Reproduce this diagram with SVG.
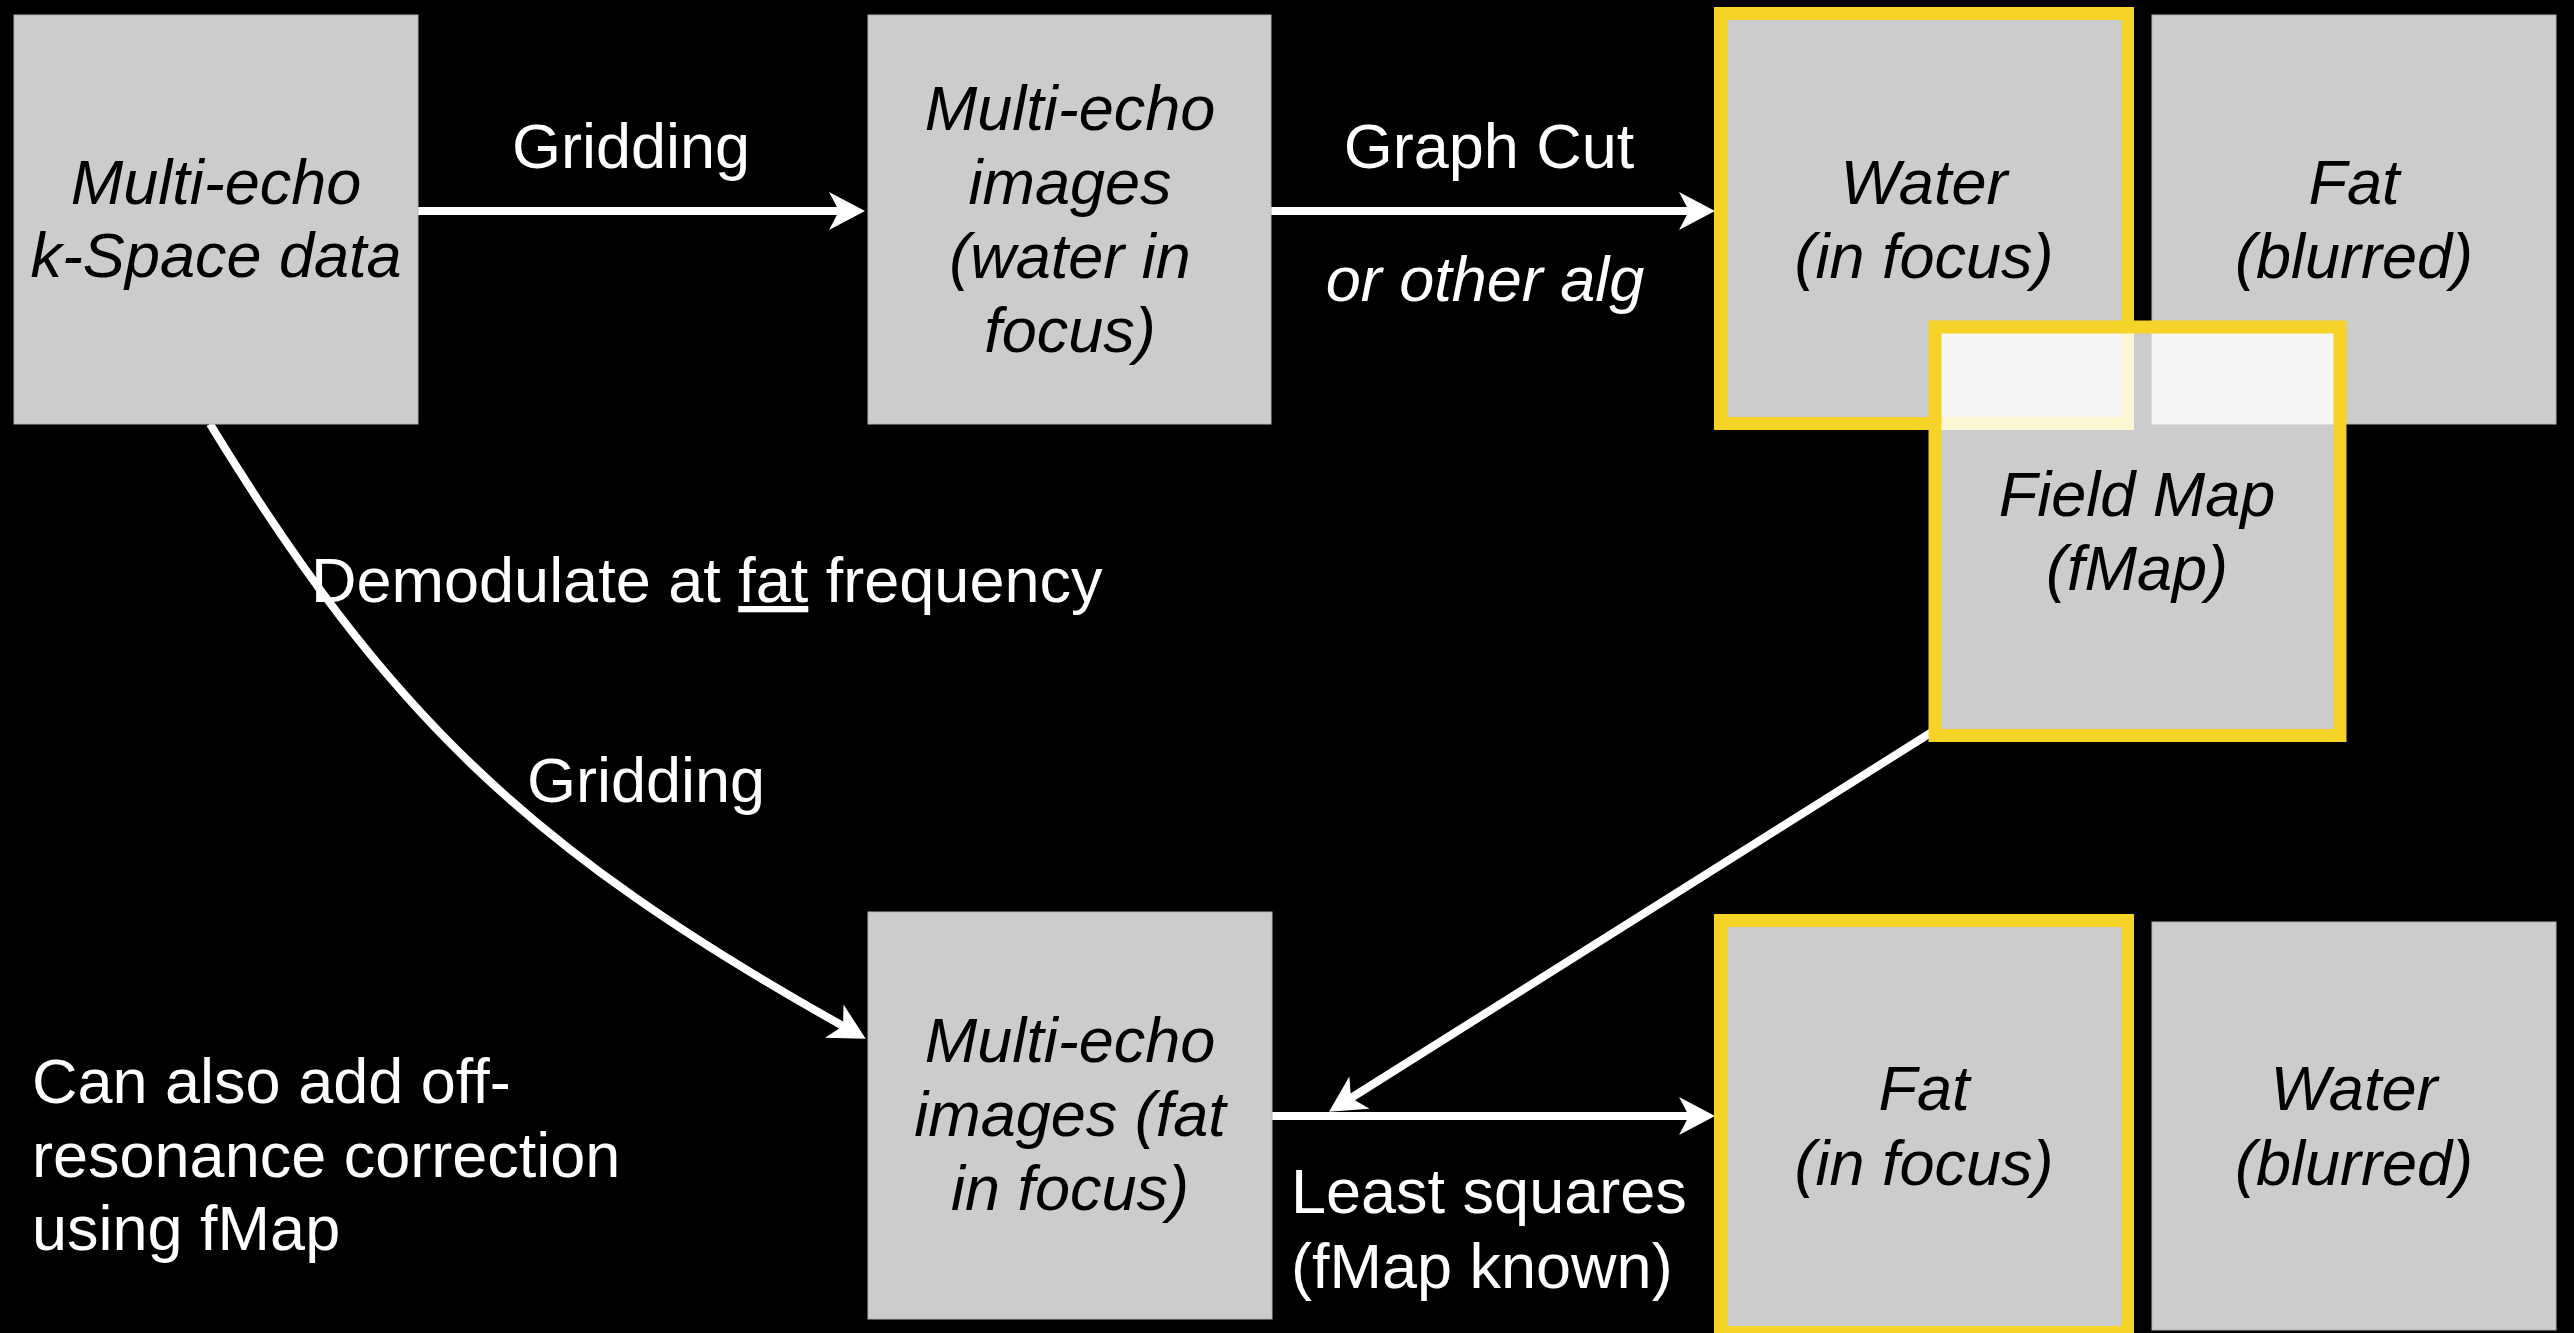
<svg xmlns="http://www.w3.org/2000/svg" width="2574" height="1333" viewBox="0 0 2574 1333">
<style>
  text { font-family: "Liberation Sans", Arial, sans-serif; font-size: 63px; }
  .lbl { fill: #ffffff; }
  .nt { fill: #000000; font-style: italic; text-anchor: middle; }
  .box { fill: #cccccc; stroke: #b4b4b4; stroke-width: 1; }
  .hl { fill: #cccccc; stroke: #f5d327; stroke-width: 13; }
  .fm { fill: #ffffff; fill-opacity: 0.8; stroke: #f5d327; stroke-width: 13; }
  .conn { fill: none; stroke: #ffffff; stroke-width: 8; marker-end: url(#arr); }
</style>
<defs>
  <marker id="arr" markerUnits="userSpaceOnUse" viewBox="-11 -20 38 40" refX="0" refY="0" markerWidth="38" markerHeight="40" orient="auto" overflow="visible">
    <path d="M26,0 L-10,-19 L0,0 L-10,19 Z" fill="#ffffff"/>
  </marker>
</defs>
<rect x="0" y="0" width="2574" height="1333" fill="#000000"/>

<g id="connectors">
  <path class="conn" d="M418,211 L839,211"/>
  <path class="conn" d="M1271,211 L1689,211"/>
  <path class="conn" d="M1272,1116 L1689,1116"/>
  <path class="conn" d="M210,424 C385,710 525,848 843,1026"/>
  <path class="conn" d="M1932,732 L1351,1098"/>
</g>

<g id="labels">
  <text class="lbl" x="631" y="168" text-anchor="middle">Gridding</text>
  <text class="lbl" x="1489" y="168" text-anchor="middle">Graph Cut</text>
  <text class="lbl" x="1485" y="301" text-anchor="middle" font-style="italic">or other alg</text>
  <text class="lbl" x="311" y="602">Demodulate at <tspan text-decoration="underline">fat</tspan> frequency</text>
  <text class="lbl" x="646" y="802" text-anchor="middle">Gridding</text>
  <text class="lbl" x="1291" y="1213">Least squares</text>
  <text class="lbl" x="1291" y="1288">(fMap known)</text>
  <text class="lbl" x="32" y="1103">Can also add off-</text>
  <text class="lbl" x="32" y="1177">resonance correction</text>
  <text class="lbl" x="32" y="1250">using fMap</text>
</g>

<g id="kspace">
  <rect class="box" x="14" y="15" width="404" height="409"/>
  <text class="nt" x="216" y="204">Multi-echo</text>
  <text class="nt" x="216" y="277">k-Space data</text>
</g>

<g id="images-water">
  <rect class="box" x="868" y="15" width="403" height="409"/>
  <text class="nt" x="1070" y="130">Multi-echo</text>
  <text class="nt" x="1070" y="204">images</text>
  <text class="nt" x="1070" y="278">(water in</text>
  <text class="nt" x="1070" y="352">focus)</text>
</g>

<g id="water-focus">
  <rect class="hl" x="1720.5" y="13.5" width="407" height="410"/>
  <text class="nt" x="1924" y="204">Water</text>
  <text class="nt" x="1924" y="278">(in focus)</text>
</g>

<g id="fat-blurred">
  <rect class="box" x="2152" y="15" width="404" height="409"/>
  <text class="nt" x="2354" y="204">Fat</text>
  <text class="nt" x="2354" y="278">(blurred)</text>
</g>

<g id="field-map">
  <rect class="fm" x="1935" y="327" width="405" height="408.5"/>
  <text class="nt" x="2137" y="516">Field Map</text>
  <text class="nt" x="2137" y="590">(fMap)</text>
</g>

<g id="images-fat">
  <rect class="box" x="868" y="912" width="404" height="407"/>
  <text class="nt" x="1070" y="1062">Multi-echo</text>
  <text class="nt" x="1070" y="1136">images (fat</text>
  <text class="nt" x="1070" y="1210">in focus)</text>
</g>

<g id="fat-focus">
  <rect class="hl" x="1720.5" y="920.5" width="407" height="412"/>
  <text class="nt" x="1924" y="1110">Fat</text>
  <text class="nt" x="1924" y="1185">(in focus)</text>
</g>

<g id="water-blurred">
  <rect class="box" x="2152" y="922" width="404" height="408"/>
  <text class="nt" x="2354" y="1110">Water</text>
  <text class="nt" x="2354" y="1185">(blurred)</text>
</g>
</svg>
